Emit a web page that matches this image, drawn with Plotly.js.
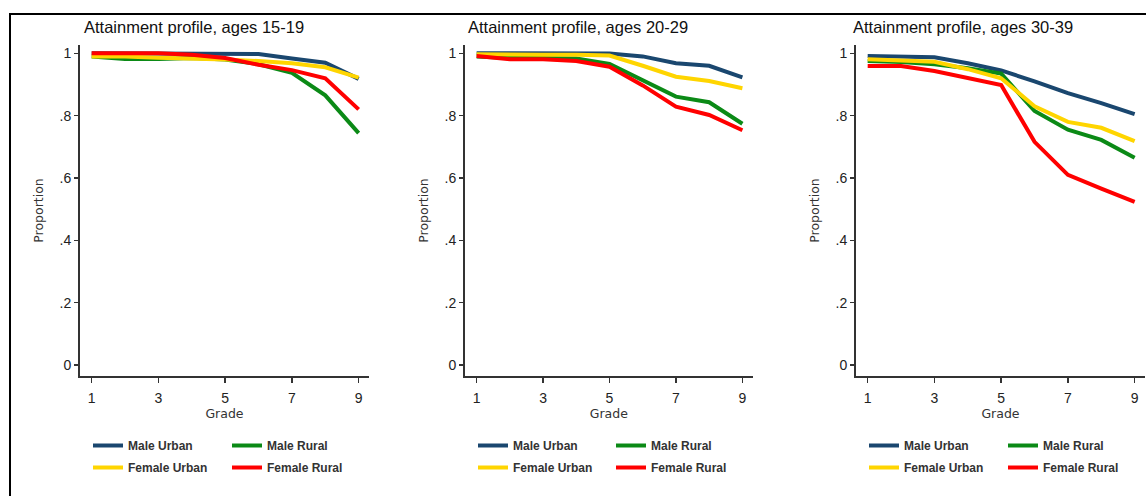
<!DOCTYPE html>
<html>
<head>
<meta charset="utf-8">
<script src="https://cdn.plot.ly/plotly-3.0.1.min.js"></script>
<style>html,body{margin:0;padding:0;background:#fff;}#chart{width:1146px;height:496px;}</style>
</head>
<body>
<div id="chart"></div>
<script>
// ---- data ----
const grades = [1, 2, 3, 4, 5, 6, 7, 8, 9];
const xTickVals = [1, 3, 5, 7, 9];
const yTickVals = [0, 0.2, 0.4, 0.6, 0.8, 1];
const yTickText = ['0', '.2', '.4', '.6', '.8', '1'];
const seriesNames = ['Male Urban', 'Male Rural', 'Female Urban', 'Female Rural'];
const panelTitles = ['Attainment profile, ages 15-19', 'Attainment profile, ages 20-29', 'Attainment profile, ages 30-39'];

// ages 15-19
const maleUrban15 = [1.000, 1.000, 1.000, 1.000, 0.999, 0.998, 0.983, 0.970, 0.918];
const maleRural15 = [0.990, 0.982, 0.982, 0.985, 0.980, 0.965, 0.937, 0.865, 0.744];
const femaleUrban15 = [0.990, 0.990, 0.986, 0.984, 0.980, 0.975, 0.968, 0.955, 0.922];
const femaleRural15 = [1.000, 1.000, 1.000, 0.995, 0.985, 0.963, 0.946, 0.920, 0.820];
// ages 20-29
const maleUrban20 = [1.000, 1.000, 1.000, 1.000, 0.999, 0.990, 0.968, 0.960, 0.923];
const maleRural20 = [0.990, 0.985, 0.985, 0.983, 0.966, 0.913, 0.861, 0.843, 0.774];
const femaleUrban20 = [0.997, 0.995, 0.995, 0.995, 0.993, 0.960, 0.925, 0.911, 0.888];
const femaleRural20 = [0.991, 0.981, 0.981, 0.975, 0.957, 0.897, 0.829, 0.802, 0.753];
// ages 30-39
const maleUrban30 = [0.991, 0.988, 0.987, 0.968, 0.945, 0.910, 0.872, 0.840, 0.805];
const maleRural30 = [0.975, 0.972, 0.965, 0.952, 0.935, 0.815, 0.755, 0.722, 0.665];
const femaleUrban30 = [0.981, 0.976, 0.973, 0.949, 0.920, 0.830, 0.780, 0.761, 0.718];
const femaleRural30 = [0.959, 0.959, 0.943, 0.920, 0.898, 0.716, 0.610, 0.566, 0.523];

// ---- styling ----
const colors = ['#1a476f', '#0b8a16', '#ffd500', '#ff0000'];
const panelData = [
  [maleUrban15, maleRural15, femaleUrban15, femaleRural15],
  [maleUrban20, maleRural20, femaleUrban20, femaleRural20],
  [maleUrban30, maleRural30, femaleUrban30, femaleRural30]
];
const W = 1146, H = 496;
const px = v => v / W;
const py = v => (H - v) / H;
const xDomains = [[80, 369], [465, 752.7], [856, 1145]];
const legendCols = [[93, 232], [478, 616], [869, 1008]];
const titleX = [82, 466, 851];

const traces = [];
panelData.forEach((series, p) => {
  series.forEach((vals, s) => {
    const col = (s === 0 || s === 2) ? 0 : 1;
    const legIdx = p * 2 + col + 1;
    traces.push({
      x: grades, y: vals, type: 'scatter', mode: 'lines',
      name: seriesNames[s],
      line: {color: colors[s], width: 4},
      xaxis: p === 0 ? 'x' : 'x' + (p + 1),
      yaxis: p === 0 ? 'y' : 'y' + (p + 1),
      legend: legIdx === 1 ? 'legend' : 'legend' + legIdx,
      legendgroup: 'g' + p + '_' + s,
      showlegend: true
    });
  });
});

const layout = {
  width: W, height: H,
  margin: {l: 0, r: 0, t: 0, b: 0},
  paper_bgcolor: '#fff', plot_bgcolor: '#fff',
  font: {family: 'Arial, Liberation Sans, sans-serif', color: '#222'},
  annotations: [],
  shapes: [{
    type: 'rect', xref: 'paper', yref: 'paper',
    x0: px(10), x1: 1.05, y0: -0.05, y1: py(14),
    line: {color: '#000', width: 2}, fillcolor: 'rgba(0,0,0,0)'
  }]
};

for (let p = 0; p < 3; p++) {
  const xk = p === 0 ? 'xaxis' : 'xaxis' + (p + 1);
  const yk = p === 0 ? 'yaxis' : 'yaxis' + (p + 1);
  const xa = p === 0 ? 'x' : 'x' + (p + 1);
  const ya = p === 0 ? 'y' : 'y' + (p + 1);
  layout[xk] = {
    domain: [px(xDomains[p][0]), px(xDomains[p][1])],
    anchor: ya, range: [0.65, 9.31],
    tickmode: 'array', tickvals: xTickVals,
    ticks: 'outside', ticklen: 5, tickwidth: 1.5, tickcolor: '#333',
    showline: true, linecolor: '#333', linewidth: 2,
    showgrid: false, zeroline: false,
    tickfont: {size: 14, color: '#222', family: 'Arial, Liberation Sans, sans-serif'},
    ticklabelstandoff: 3,
    title: {text: 'Grade', standoff: 0, font: {size: 12.5, color: '#333', family: 'DejaVu Sans, sans-serif'}}
  };
  layout[yk] = {
    domain: [py(376), py(45)],
    anchor: xa, range: [-0.0353, 1.0266],
    tickmode: 'array', tickvals: yTickVals, ticktext: yTickText,
    ticks: 'outside', ticklen: 4, tickwidth: 1.5, tickcolor: '#333',
    showline: true, linecolor: '#333', linewidth: 2,
    showgrid: false, zeroline: false,
    tickfont: {size: 14, color: '#222', family: 'Arial, Liberation Sans, sans-serif'},
    title: {text: 'Proportion', standoff: 13, font: {size: 12.5, color: '#333', family: 'DejaVu Sans, sans-serif'}}
  };
  layout.annotations.push({
    text: panelTitles[p], xref: 'paper', yref: 'paper',
    x: px(titleX[p]), y: py(27), xanchor: 'left', yanchor: 'middle',
    showarrow: false, font: {size: 16.5, color: '#111', family: 'Arial, Liberation Sans, sans-serif'}
  });
  for (let c = 0; c < 2; c++) {
    const legIdx = p * 2 + c + 1;
    const lk = legIdx === 1 ? 'legend' : 'legend' + legIdx;
    layout[lk] = {
      x: px(legendCols[p][c] - 5), y: py(431), xanchor: 'left', yanchor: 'top',
      orientation: 'v', itemwidth: 30, tracegroupgap: 3,
      bgcolor: 'rgba(0,0,0,0)', borderwidth: 0,
      font: {size: 12, color: '#333', family: 'Arial, Liberation Sans, sans-serif', weight: 'bold'}
    };
  }
}

Plotly.newPlot('chart', traces, layout, {staticPlot: true, displayModeBar: false});
</script>
</body>
</html>
